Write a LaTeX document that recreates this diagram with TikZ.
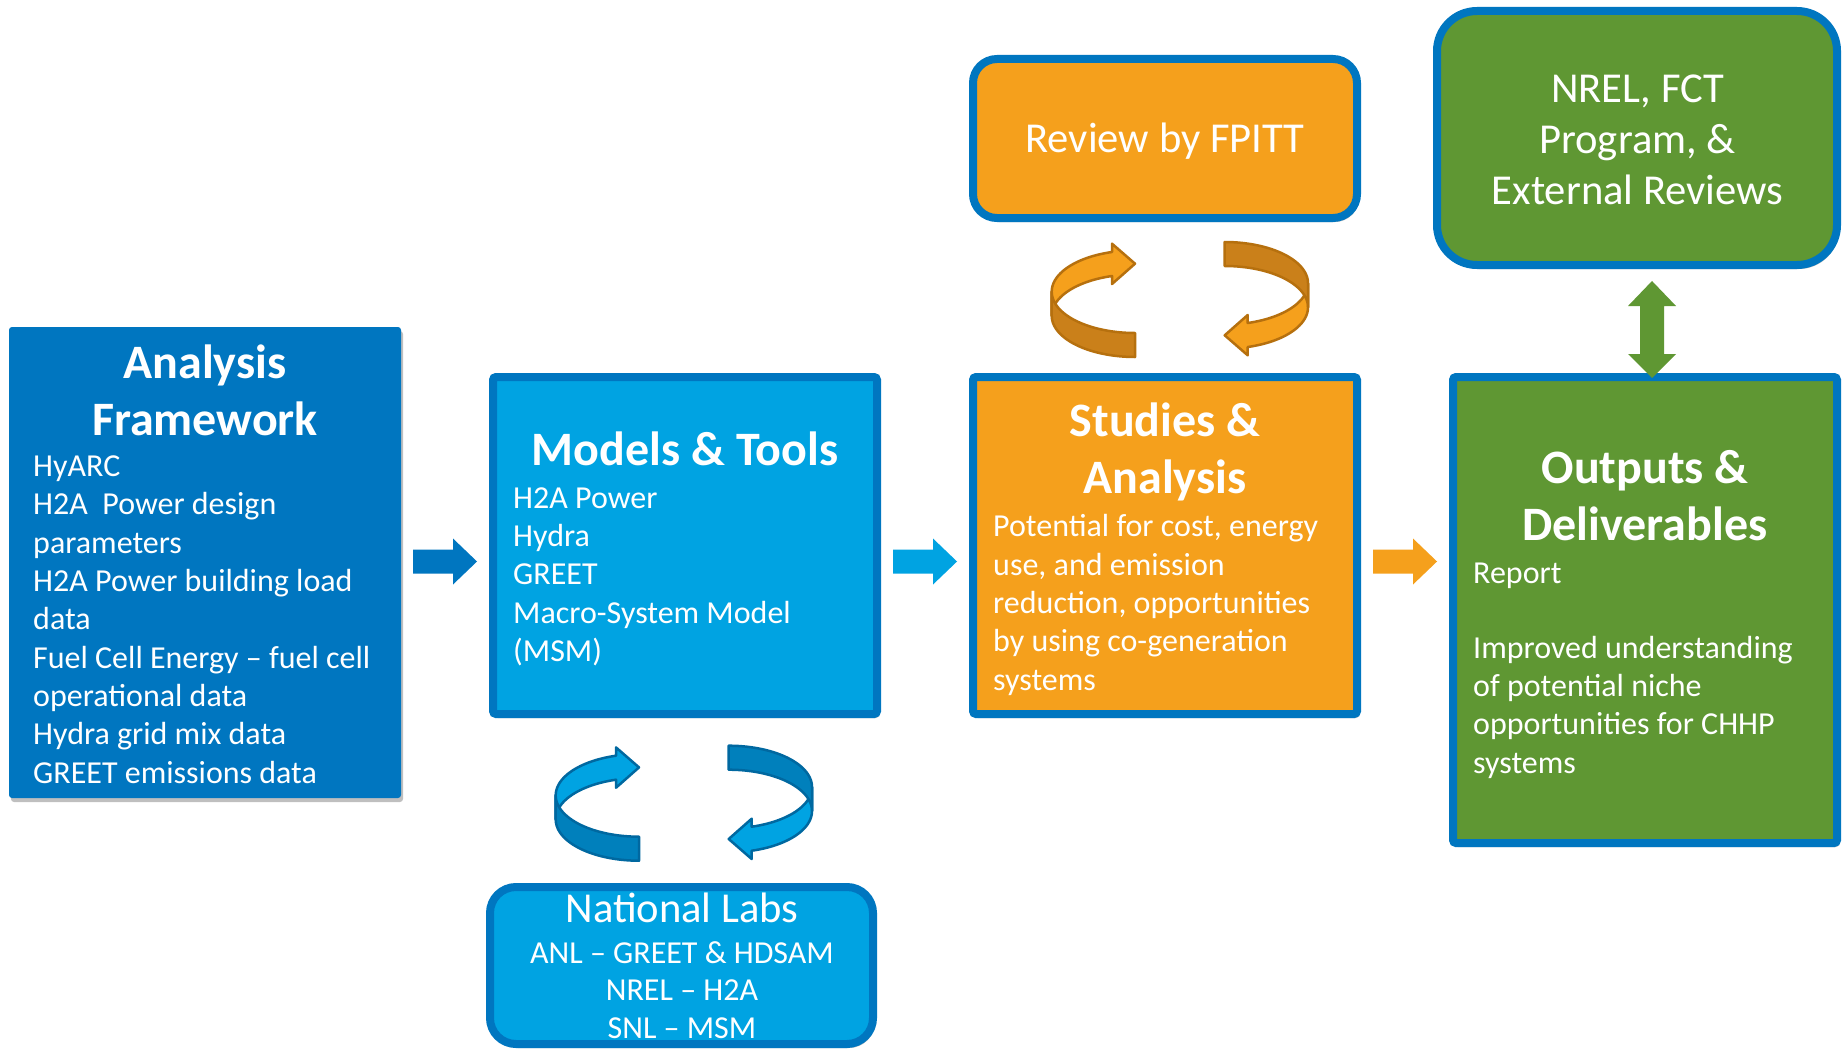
\documentclass[tikz,border=0pt]{standalone}
\usepackage{fontspec}
\setmainfont{Carlito}
\usetikzlibrary{shadows,calc}
\definecolor{dblue}{RGB}{0,118,192}
\definecolor{lblue}{RGB}{0,163,226}
\definecolor{orng}{RGB}{245,160,28}
\definecolor{grn}{RGB}{95,151,51}
\definecolor{orngdark}{RGB}{202,128,26}
\definecolor{orngline}{RGB}{182,112,14}
\definecolor{bluedark}{RGB}{0,128,188}
\definecolor{blueline}{RGB}{0,104,160}
\tikzset{
  shad/.style={drop shadow={shadow xshift=2pt,shadow yshift=-4pt,opacity=0.25,fill=black}},
  abox/.style={rectangle, inner sep=0pt, fill=dblue, minimum width=392pt, minimum height=471pt, rounded corners=3pt, shad},
  box/.style={rectangle, inner sep=0pt, line width=8pt, draw=dblue, minimum width=384pt, rounded corners=3pt, shad},
  rbox/.style={rectangle, inner sep=0pt, line width=8pt, draw=dblue, minimum width=384pt, shad},
  title/.style={text=white, align=center, inner sep=0pt, font=\bfseries\fontsize{48}{57}\selectfont},
  body/.style={text=white, align=left, inner sep=0pt, font=\fontsize{32}{38.3}\selectfont},
  plaintext/.style={text=white, align=center, inner sep=0pt},
  ring/.style={line width=2.5pt, line join=round},
}
\newcommand{\harrowfill}[3]{%
  \fill[#3] let \p1=(#1), \p2=(#2) in
    ({\x1},{\y1+12pt}) -- ({\x2-24pt},{\y1+12pt}) -- ({\x2-24pt},{\y1+23pt}) --
    ({\x2},{\y1}) -- ({\x2-24pt},{\y1-23pt}) -- ({\x2-24pt},{\y1-12pt}) --
    ({\x1},{\y1-12pt}) -- cycle;}
\newcommand{\vdblarrowfill}[3]{%
  \fill[#3] let \p1=(#1), \p2=(#2) in
    ({\x1},{\y1}) -- ({\x1+24pt},{\y1-25pt}) -- ({\x1+12pt},{\y1-25pt}) --
    ({\x1+12pt},{\y2+24pt}) -- ({\x1+24pt},{\y2+24pt}) -- ({\x1},{\y2}) --
    ({\x1-24pt},{\y2+24pt}) -- ({\x1-12pt},{\y2+24pt}) -- ({\x1-12pt},{\y1-25pt}) --
    ({\x1-24pt},{\y1-25pt}) -- cycle;}
\newcommand{\cycarrowone}[3]{%
  \filldraw[ring, fill=#1, draw=#3] (0,-28) -- (-23,-48) -- (-23,-39.7)
    -- plot[domain=-106:-180, samples=40, variable=\t] ({83.3*cos(\t)},{41.3*sin(\t)})
    -- (-83.3,24)
    -- plot[domain=-180:-106, samples=40, variable=\t] ({83.3*cos(\t)},{41.3*sin(\t)+24})
    -- (-23,-7.7) -- cycle;
  \filldraw[ring, fill=#2, draw=#3]
    plot[domain=180:90, samples=40, variable=\t] ({83.3*cos(\t)},{41.3*sin(\t)})
    -- plot[domain=90:180, samples=40, variable=\t] ({83.3*cos(\t)},{41.3*sin(\t)+24})
    -- cycle;}
\newcommand{\cycarrowpair}[3]{%
  \begin{scope}\cycarrowone{#1}{#2}{#3}\end{scope}
  \begin{scope}[shift={(89.7,15.6)}, xscale=-1, yscale=-1]\cycarrowone{#1}{#2}{#3}\end{scope}}
\begin{document}
\begin{tikzpicture}[x=1pt,y=-1pt]
\useasboundingbox (0,0) rectangle (1843,1049);
\fill[white] (0,0) rectangle (1843,1049);

% boxes
\node[abox] (af) at (205,562.5) {};
\node[box, fill=lblue, minimum height=337pt] (mt) at (685,545.5) {};
\node[box, fill=orng, minimum height=337pt] (sa) at (1165,545.5) {};
\node[box, fill=grn, minimum height=466pt] (od) at (1645,610) {};
\node[rbox, fill=orng, minimum height=159pt, rounded corners=24pt] (rv) at (1165,138.5) {};
\node[rbox, fill=grn, minimum width=400pt, minimum height=254pt, rounded corners=40pt] (nr) at (1637,138) {};
\node[rbox, fill=lblue, minimum width=383pt, minimum height=157pt, rounded corners=26pt] (nl) at (681.5,965.5) {};

% texts (anchor = baseline of the last line)
\node[title, anchor=base] (aft) at (205,435) {Analysis\\Framework};
\node[body, anchor=base west] (afb) at (33,783) {HyARC\\H2A~ Power design\\parameters\\H2A Power building load\\data\\Fuel Cell Energy – fuel cell\\operational data\\Hydra grid mix data\\GREET emissions data};
\node[title, anchor=base] (mtt) at (685,465) {Models \& Tools};
\node[body, anchor=base west] (mtb) at (513,661.5) {H2A Power\\Hydra\\GREET\\Macro-System Model\\(MSM)};
\node[title, anchor=base] (sat) at (1165,493) {Studies \&\\Analysis};
\node[body, anchor=base west] (sab) at (993,690) {Potential for cost, energy\\use, and emission\\reduction, opportunities\\by using co-generation\\systems};
\node[title, anchor=base] (odt) at (1645,540) {Outputs \&\\Deliverables};
\node[body, anchor=base west] (odb) at (1473,773) {Report\\[36.7pt]Improved understanding\\of potential niche\\opportunities for CHHP\\systems};
\node[plaintext, font=\fontsize{42.6}{51}\selectfont, anchor=base] (rvt) at (1165,152) {Review by FPITT};
\node[plaintext, font=\fontsize{42.6}{51}\selectfont, anchor=base] (nrt) at (1637.5,204) {NREL, FCT\\Program, \&\\External Reviews};
\node[plaintext, font=\fontsize{42.6}{51}\selectfont, anchor=base] (nlt) at (682,922) {National Labs};
\node[plaintext, font=\fontsize{32}{37.5}\selectfont, anchor=base] (nlb) at (682,1038) {ANL – GREET \& HDSAM\\NREL – H2A\\SNL – MSM};

% straight block arrows
\coordinate (ay) at (0,561.5);
\coordinate (ax) at (1652,0);
\harrowfill{$(af.east |- ay)+(12,0)$}{$(mt.west |- ay)+(-12,0)$}{dblue}
\harrowfill{$(mt.east |- ay)+(12,0)$}{$(sa.west |- ay)+(-12,0)$}{lblue}
\harrowfill{$(sa.east |- ay)+(12,0)$}{$(od.west |- ay)+(-12,0)$}{orng}
\vdblarrowfill{$(nr.south -| ax)+(0,12)$}{$(od.north -| ax)+(0,5)$}{grn}

% circular arrows
\begin{scope}[shift={(1135,291.7)}]
  \cycarrowpair{orng}{orngdark}{orngline}
\end{scope}
\begin{scope}[shift={(639,795.4)}]
  \cycarrowpair{lblue}{bluedark}{blueline}
\end{scope}
\end{tikzpicture}
\end{document}
